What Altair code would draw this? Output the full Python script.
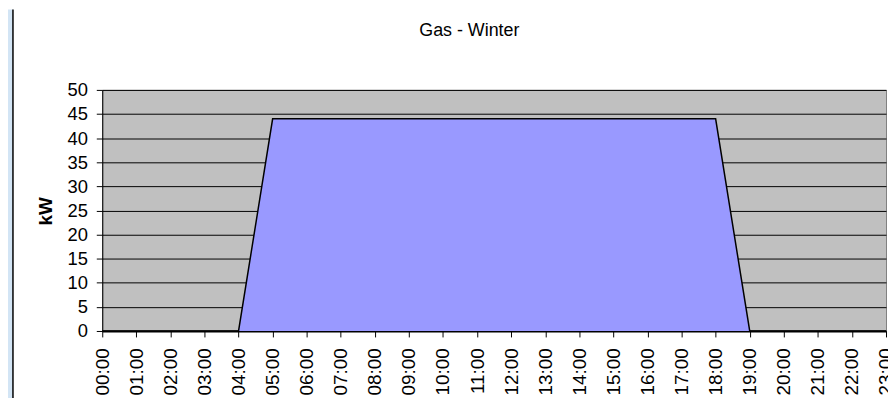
import altair as alt
import pandas as pd

title_text = ["Gas - Winter"]
hours = ["00:00", "01:00", "02:00", "03:00", "04:00", "05:00", "06:00", "07:00",
         "08:00", "09:00", "10:00", "11:00", "12:00", "13:00", "14:00", "15:00",
         "16:00", "17:00", "18:00", "19:00", "20:00", "21:00", "22:00", "23:00"]
kw = [0, 0, 0, 0, 0, 44, 44, 44, 44, 44, 44, 44, 44, 44, 44, 44, 44, 44, 44,
      0, 0, 0, 0, 0]
y_ticks = [0, 5, 10, 15, 20, 25, 30, 35, 40, 45, 50]

df = pd.DataFrame({"hour": hours, "kw": kw})
FONT = "Liberation Sans"

area = alt.Chart(df).mark_area(
    color="#9999FF",
    opacity=1,
    interpolate="linear",
    line=alt.OverlayMarkDef(color="black", strokeWidth=1.5),
).encode(
    x=alt.X("hour:O", sort=hours, scale=alt.Scale(type="point", padding=0),
            axis=alt.Axis(title=None, labelAngle=270, labelFont=FONT, labelFontSize=19,
                          labelColor="black", labelPadding=11, tickSize=6,
                          tickColor="black", domainColor="black", domainWidth=2,
                          grid=False, labelOverlap=False)),
    y=alt.Y("kw:Q", scale=alt.Scale(domain=[0, 50], nice=False),
            axis=alt.Axis(title="kW", values=y_ticks, labelFont=FONT, labelFontSize=18.5,
                          labelColor="black", labelPadding=9, tickSize=6,
                          tickColor="black", domainColor="black", domainWidth=1,
                          grid=True, gridColor="black", gridWidth=1, gridOpacity=1,
                          titleFont=FONT, titleFontSize=19, titleFontWeight="bold",
                          titleColor="black", titleX=-57, titleY=122,
                          titleAlign="center", titleBaseline="middle", titleAngle=270)),
)

strip = alt.Chart(alt.Data(values=[{}])).mark_rect(color="#D3E5F5").encode(
    x=alt.value(-95), x2=alt.value(-90), y=alt.value(-81), y2=alt.value(320)
)
border = alt.Chart(alt.Data(values=[{}])).mark_rule(color="black", strokeWidth=1.5).encode(
    x=alt.value(-90), y=alt.value(-81), y2=alt.value(320)
)
title = alt.Chart(pd.DataFrame({"t": title_text})).mark_text(
    font=FONT, fontSize=18, color="black", align="center", baseline="alphabetic"
).encode(x=alt.value(370), y=alt.value(-54), text="t:N")

chart = alt.layer(strip, border, area, title).properties(
    width=790,
    height=243,
    autosize=alt.AutoSizeParams(type="none"),
    padding={"left": 95, "top": 81, "right": 2, "bottom": 66},
    background="white",
).configure_view(fill="#C0C0C0", stroke="#808080", strokeWidth=1)

chart.save("out.html", embed_options={"renderer": "svg", "actions": False})
